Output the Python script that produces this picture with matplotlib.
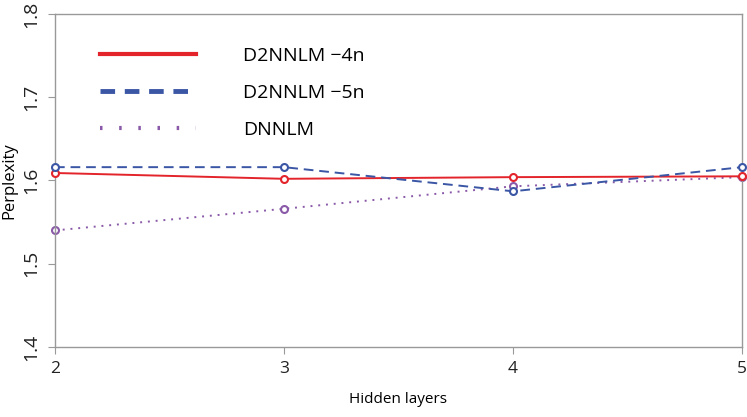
import matplotlib.pyplot as plt
from matplotlib.lines import Line2D

# data
layers = [2, 3, 4, 5]
d2nnlm_4n = [1.609, 1.602, 1.604, 1.605]
d2nnlm_5n = [1.616, 1.616, 1.587, 1.616]
dnnlm = [1.540, 1.566, 1.593, 1.604]
labels = ['D2NNLM \u22124n', 'D2NNLM \u22125n', 'DNNLM']

red = '#e3242b'
blue = '#3a56a5'
purple = '#8a5aa8'

plt.rcParams['font.family'] = ['Open Sans', 'DejaVu Sans']

fig = plt.figure(figsize=(7.47, 4.17), dpi=100)
ax = fig.add_axes([0.0736, 0.168, 0.9197, 0.7984])

ax.plot(layers, d2nnlm_4n, color=red, lw=1.4, marker='o', ms=5,
        mfc='white', mew=1.5, clip_on=False, zorder=3)
ax.plot(layers, d2nnlm_5n, color=blue, lw=1.4, ls=(0, (5, 3)), marker='o', ms=5,
        mfc='white', mew=1.5, clip_on=False, zorder=4)
ax.plot(layers, dnnlm, color=purple, lw=1.4, ls=(0, (1, 3)), marker='o', ms=5,
        mfc='white', mew=1.5, clip_on=False, zorder=2)

ax.set_xlim(2, 5)
ax.set_ylim(1.4, 1.8)
ax.set_xticks(layers)
ax.set_yticks([1.4, 1.5, 1.6, 1.7, 1.8])
ax.set_yticklabels(['1.4', '1.5', '1.6', '1.7', '1.8'], rotation=90, va='center')

for s in ax.spines.values():
    s.set_color('#999999')
    s.set_linewidth(1.0)
ax.tick_params(color='#999999', length=5, labelcolor='#222222')
ax.tick_params(axis='x', labelsize=12.5, pad=5)
ax.tick_params(axis='y', labelsize=14, pad=6)

ax.set_xlabel('Hidden layers', fontsize=11, labelpad=11)
ax.set_ylabel('Perplexity', fontsize=12, labelpad=3)

handles = [
    Line2D([], [], color=red, lw=3),
    Line2D([], [], color=blue, lw=3.5, ls=(0, (3, 2))),
    Line2D([], [], color=purple, lw=3, ls=(0, (0.6, 4))),
]
ax.legend(handles, labels, loc='upper left', bbox_to_anchor=(0.04, 0.954),
          frameon=False, fontsize=14, handlelength=4.94, handletextpad=2.4,
          labelspacing=0.98)

fig.savefig('out.png', dpi=100)
